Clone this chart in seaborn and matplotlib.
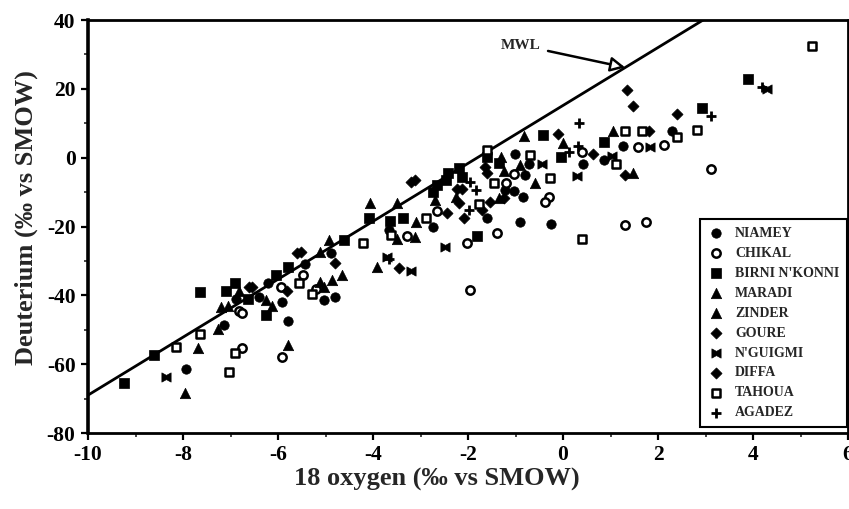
import matplotlib
matplotlib.use("Agg")
import matplotlib.pyplot as plt
import seaborn as sns
import numpy as np
import pandas as pd
from matplotlib.path import Path
from matplotlib.ticker import MultipleLocator

# ---------------- data ----------------
niamey_x = [-7.94, -7.13, -6.89, -6.40, -6.22, -5.91, -5.79, -5.44, -5.04, -4.79, -4.89, -2.74,
            -0.90, -0.25, -3.66, -1.59, -1.23, -1.02, -0.84, -1.04, -0.71, -0.79, 0.43, 1.26, 0.86, 2.29]
niamey_y = [-61.3, -48.7, -41.2, -40.4, -36.4, -41.9, -47.4, -30.9, -41.4, -40.6, -27.7, -20.1,
            -18.6, -19.3, -21.0, -17.6, -9.4, 1.2, -11.4, -9.6, -1.7, -5.1, -1.7, 3.4, -0.7, 7.8]

chikal_x = [-6.82, -6.75, -6.75, -5.94, -5.92, -5.47, -5.21, -3.29, -2.66, -2.03, -1.39, -1.96,
            -1.21, -1.04, -0.30, -0.37, 0.40, 1.57, 2.12, 3.12, 1.31, 1.75]
chikal_y = [-44.5, -45.1, -55.4, -37.5, -57.9, -34.1, -38.3, -22.8, -15.4, -24.7, -22.0, -38.5,
            -7.3, -4.8, -11.4, -12.8, 1.7, 3.2, 3.7, -3.4, -19.6, -18.6]

birni_x = [-9.25, -8.62, -7.64, -7.10, -6.91, -6.64, -6.26, -6.05, -5.80, -4.61, -4.08, -3.64,
           -3.36, -2.73, -2.65, -2.47, -2.42, -2.19, -2.12, -1.82, -1.59, -1.35, -0.42, -0.05,
           0.86, 2.93, 3.90]
birni_y = [-65.6, -57.4, -39.0, -38.7, -36.4, -41.2, -45.8, -34.1, -31.9, -24.0, -17.6, -18.3,
           -17.4, -9.9, -8.0, -6.5, -4.4, -3.1, -5.6, -22.8, 0.3, -1.6, 6.6, 0.3,
           4.6, 14.3, 22.8]

maradi_x = [-7.96, -7.69, -7.20, -7.27, -6.26, -5.79, -5.12, -5.03, -4.86, -4.06, -3.49, -2.70,
            -1.30, -0.83, -0.60, 1.05]
maradi_y = [-68.5, -55.4, -43.5, -49.9, -41.4, -54.5, -27.4, -37.5, -35.4, -13.3, -23.5, -12.3,
            0.3, 6.3, -7.5, 7.8]

zinder_x = [-7.06, -6.82, -6.12, -5.12, -4.93, -4.66, -3.91, -3.49, -3.12, -3.10, -2.26, -1.25,
            -0.90, 0.00, 1.48, -1.35]
zinder_y = [-43.1, -38.7, -43.1, -36.1, -24.0, -34.1, -31.7, -13.3, -23.0, -18.6, -11.4, -3.9,
            -2.2, 4.2, -4.6, -11.8]

goure_x = [-6.61, -6.54, -5.82, -5.59, -5.51, -4.79, -3.45, -3.21, -3.12, -2.45, -2.24, -2.19,
           -1.70, -1.53, 0.63, 1.31]
goure_y = [-37.5, -37.5, -38.7, -27.6, -27.4, -30.7, -32.2, -7.0, -6.5, -16.2, -9.1, -13.3,
           -15.2, -12.8, 1.2, -5.1]

nguigmi_x = [-8.36, -3.70, -3.20, -2.49, -0.44, 0.29, 1.84, 1.03, 4.29]
nguigmi_y = [-63.7, -29.0, -32.9, -25.9, -1.7, -5.4, 3.2, 0.5, 19.9]

diffa_x = [-2.12, -1.65, -1.59, -1.25, -0.11, 1.35, 1.47, 2.40, 1.80, -2.09]
diffa_y = [-9.1, -2.6, -4.4, -11.8, 6.9, 19.7, 15.0, 12.7, 7.8, -17.6]

tahoua_x = [-8.15, -7.64, -7.03, -6.91, -5.56, -5.28, -4.21, -3.63, -2.89, -1.77, -1.59, -1.46,
            -0.69, -0.27, 0.40, 1.12, 1.31, 1.66, 2.41, 2.82, 5.24]
tahoua_y = [-55.1, -51.3, -62.2, -56.7, -36.4, -39.7, -24.9, -22.5, -17.6, -13.5, 2.1, -7.3,
            0.8, -6.0, -23.5, -1.9, 7.8, 7.8, 5.9, 8.0, 32.4]

agadez_x = [-1.96, -1.84, -1.98, 0.12, 0.33, 0.31, 3.11, 4.18, -3.66]
agadez_y = [-7.0, -9.4, -15.2, 1.7, 10.0, 3.4, 12.1, 20.6, -29.5]

mwl_x = [-10.0, 2.95]
mwl_y = [-69.0, 40.0]

site_labels = ["NIAMEY", "CHIKAL", "BIRNI N'KONNI", "MARADI", "ZINDER",
               "GOURE", "N'GUIGMI", "DIFFA", "TAHOUA", "AGADEZ"]
x_ticks = [-10, -8, -6, -4, -2, 0, 2, 4, 6]
y_ticks = [-80, -60, -40, -20, 0, 20, 40]

# ---------------- style ----------------
sns.set_style("ticks")
plt.rcParams["font.family"] = ["Liberation Serif", "DejaVu Serif"]
plt.rcParams["font.weight"] = "bold"
plt.rcParams["axes.unicode_minus"] = False

bowtie = Path([(-1, -1), (0, -0.45), (1, -1), (1, 1), (0, 0.45), (-1, 1), (-1, -1)],
              [Path.MOVETO, Path.LINETO, Path.LINETO, Path.LINETO, Path.LINETO,
               Path.LINETO, Path.CLOSEPOLY])

series = [
    (niamey_x, niamey_y, dict(marker="o", s=46, color="black", edgecolor="black", linewidth=0.5)),
    (chikal_x, chikal_y, dict(marker="o", s=36, color="white", edgecolor="black", linewidth=1.8)),
    (birni_x, birni_y, dict(marker="s", s=44, color="black", edgecolor="black", linewidth=0.5)),
    (maradi_x, maradi_y, dict(marker="^", s=56, color="black", edgecolor="black", linewidth=0.5)),
    (zinder_x, zinder_y, dict(marker="^", s=56, color="black", edgecolor="black", linewidth=0.5)),
    (goure_x, goure_y, dict(marker="D", s=32, color="black", edgecolor="black", linewidth=0.5)),
    (nguigmi_x, nguigmi_y, dict(marker=bowtie, s=44, color="black", edgecolor="black", linewidth=0.5)),
    (diffa_x, diffa_y, dict(marker="D", s=32, color="black", edgecolor="black", linewidth=0.5)),
    (tahoua_x, tahoua_y, dict(marker="s", s=36, color="white", edgecolor="black", linewidth=1.8)),
    (agadez_x, agadez_y, dict(marker="+", s=60, color="black", linewidth=2.0)),
]

fig = plt.figure(figsize=(8.49, 5.09), dpi=100)
ax = fig.add_axes([88 / 849, 1 - 433 / 509, (848 - 88) / 849, (433 - 20) / 509])

sns.lineplot(x=mwl_x, y=mwl_y, ax=ax, color="black", linewidth=2.0, zorder=2)

for (xs, ys, kw), lab in zip(series, site_labels):
    df = pd.DataFrame({"x": xs, "y": ys})
    sns.scatterplot(data=df, x="x", y="y", ax=ax, label=lab, zorder=3, **kw)

ax.set_xlim(-10, 6)
ax.set_ylim(-80, 40)
ax.set_xticks(x_ticks)
ax.set_yticks(y_ticks)
ax.xaxis.set_minor_locator(MultipleLocator(1))
ax.yaxis.set_minor_locator(MultipleLocator(10))
ax.tick_params(which="major", direction="out", length=5, width=1.6, labelsize=15.5, pad=4,
               colors="black")
ax.tick_params(which="minor", direction="out", length=3, width=1.2)
for lab in ax.get_xticklabels() + ax.get_yticklabels():
    lab.set_fontweight("bold")
for side, sp in ax.spines.items():
    sp.set_color("black")
    sp.set_linewidth(2.0)
ax.spines["left"].set_linewidth(2.6)

ax.set_xlabel("18 oxygen (‰ vs SMOW)", fontsize=19, fontweight="bold", labelpad=3)
ax.set_ylabel("Deuterium (‰ vs SMOW)", fontsize=19, fontweight="bold", labelpad=4)
ax.xaxis.set_label_coords((437 - 88) / 760, -0.085)
ax.yaxis.set_label_coords(-0.066, (433 - 218) / 413)

ax.annotate("MWL", xy=(1.31, 26.2), xytext=(-0.47, 32.7), ha="right", va="center",
            fontsize=11, fontweight="bold",
            arrowprops=dict(arrowstyle="-|>,head_length=0.8,head_width=0.4",
                            fc="white", ec="black", lw=1.8, shrinkA=3, shrinkB=0))

leg = ax.legend(loc="lower right", bbox_to_anchor=(0.9987, 0.0145), frameon=True,
                fancybox=False, framealpha=1, edgecolor="black",
                prop=dict(family="Liberation Serif", weight="bold", size=10),
                labelspacing=0.5, handletextpad=0.7, borderpad=0.55, handlelength=1.3,
                borderaxespad=0)
leg.get_frame().set_linewidth(1.5)

fig.savefig("out.png", dpi=100, facecolor="white")
